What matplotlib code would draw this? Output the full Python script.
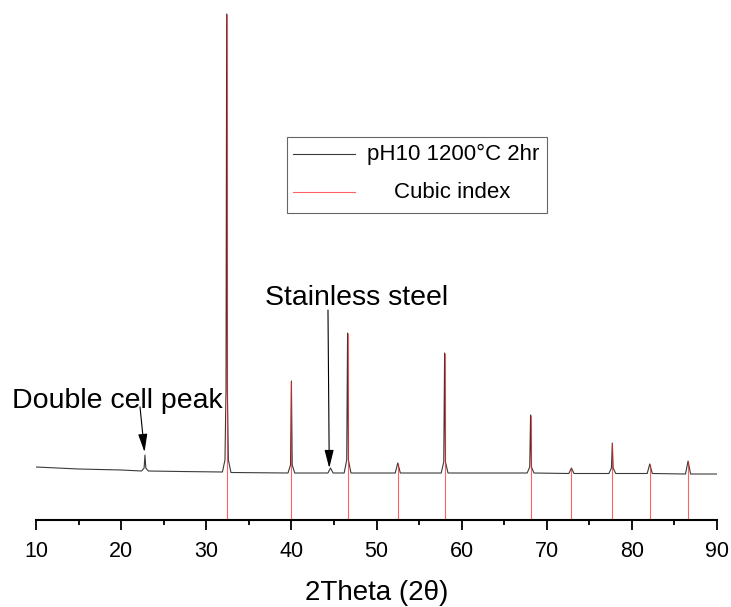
import matplotlib
matplotlib.use("Agg")
import matplotlib.pyplot as plt
from matplotlib.patches import Rectangle

plt.rcParams['font.family'] = ['Liberation Sans', 'DejaVu Sans']

trace_x = [10, 15, 20, 22.4, 22.7, 22.8, 22.9, 23.2, 27, 31.9, 32.2, 32.32, 32.4, 32.48, 32.6, 32.9,
           39.6, 39.9, 40.0, 40.1, 40.4, 44.3, 44.6, 44.9, 46.2, 46.5, 46.6, 46.7, 47.0,
           52.2, 52.5, 52.8, 57.6, 57.9, 58.0, 58.1, 58.4, 67.7, 68.0, 68.1, 68.2, 68.5,
           72.6, 72.9, 73.2, 77.3, 77.6, 77.7, 77.8, 78.1, 81.8, 82.1, 82.4, 86.3, 86.6, 86.9, 90]
trace_y = [53, 51, 50, 49, 52, 65, 52, 49, 48.5, 48, 60, 130, 506, 130, 60, 47.5,
           47, 55, 139, 55, 47, 47, 52, 47, 47, 60, 187, 60, 47,
           47, 57, 47, 47, 58, 167, 58, 47, 47, 53, 105, 53, 47,
           46.5, 52, 46.5, 46.5, 52, 77, 52, 46.5, 46.5, 56, 46.5, 46, 59, 46, 46]

# cubic index reflections
index_pos = [32.4, 40.0, 46.6, 52.5, 58.0, 68.1, 72.9, 77.7, 82.1, 86.6]
index_height = [506, 139, 187, 57, 167, 105, 52, 77, 56, 59]

sample_label = "pH10 1200°C 2hr"
index_label = "Cubic index"

fig = plt.figure(figsize=(7.31, 6.07), dpi=100)
ax = fig.add_axes([36/731, 87/607, 681/731, 510/607])

ax.plot(trace_x, trace_y, color='#3a3a3a', lw=0.8)
ax.vlines(index_pos, 0, index_height, color='#ff2020', lw=0.8, alpha=0.7)

ax.set_xlim(10, 90)
ax.set_ylim(0, 510)
for s in ['top', 'left', 'right']:
    ax.spines[s].set_visible(False)
ax.spines['bottom'].set_linewidth(1.5)
ax.set_yticks([])
ax.set_xticks(range(10, 91, 10))
ax.set_xticks(range(15, 90, 10), minor=True)
ax.tick_params(axis='x', which='major', direction='out', length=7, width=1.3, labelsize=15.5, pad=8)
ax.tick_params(axis='x', which='minor', direction='out', length=3.5, width=1.3)
ax.set_xlabel("2Theta (2θ)", fontsize=20, labelpad=13)

# annotations
ax.text(7.18, 112, "Double cell peak", fontsize=20.5, ha='left', va='baseline', clip_on=False)
ax.annotate('', xy=(22.75, 68), xytext=(22.22, 113),
            arrowprops=dict(arrowstyle='-|>,head_length=1.1,head_width=0.28', color='black',
                            lw=0.8, mutation_scale=10, shrinkA=0, shrinkB=0))
ax.text(36.9, 215, "Stainless steel", fontsize=20.5, ha='left', va='baseline')
ax.annotate('', xy=(44.45, 52), xytext=(44.3, 210),
            arrowprops=dict(arrowstyle='-|>,head_length=1.1,head_width=0.28', color='black',
                            lw=0.8, mutation_scale=10, shrinkA=0, shrinkB=0))

# legend box
ax.add_patch(Rectangle((39.49, 307), 70.03 - 39.49, 76, fill=False, edgecolor='#666666', lw=0.8))
ax.plot([40.19, 47.47], [366, 366], color='#3a3a3a', lw=0.8)
ax.plot([40.19, 47.47], [328, 328], color='#ff2020', lw=0.8, alpha=0.7)
ax.text(58.99, 366, sample_label, fontsize=16, ha='center', va='center')
ax.text(58.9, 328, index_label, fontsize=16, ha='center', va='center')

fig.savefig("out.png", dpi=100)
